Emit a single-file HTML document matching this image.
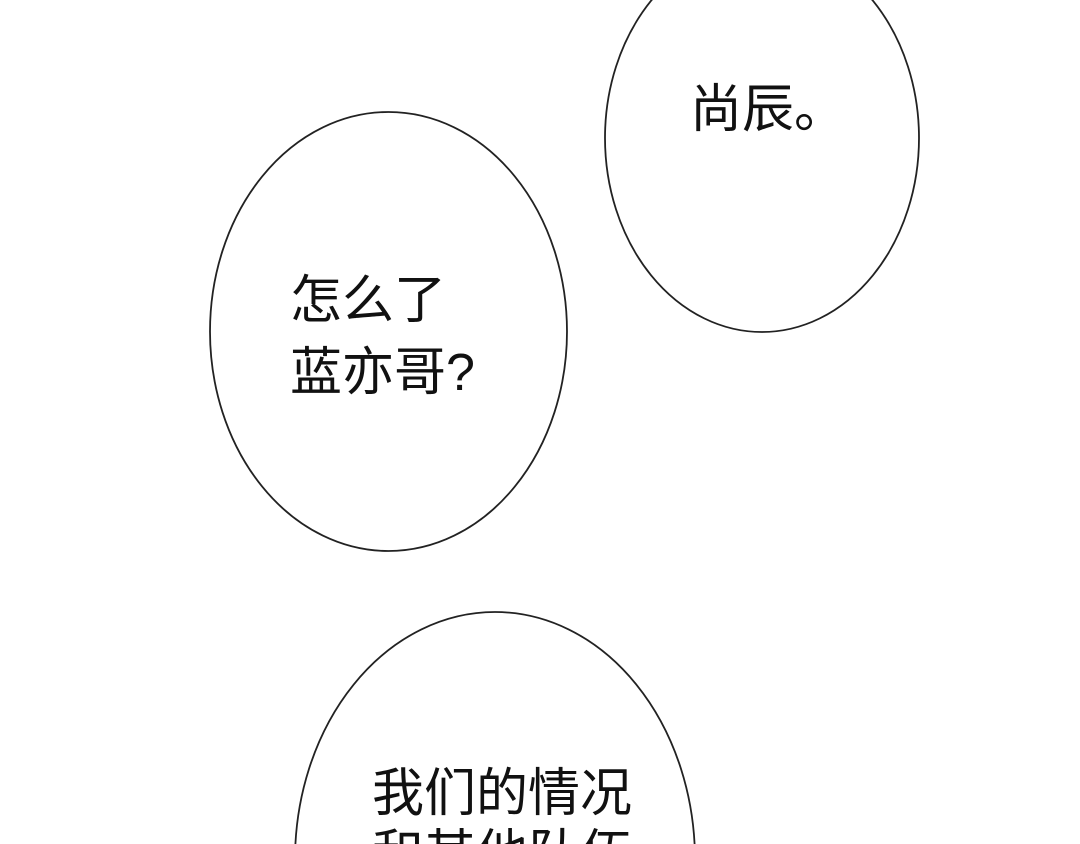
<!DOCTYPE html>
<html><head><meta charset="utf-8"><style>
html,body{margin:0;padding:0;background:#fff;width:1080px;height:844px;overflow:hidden}
svg{display:block;overflow:hidden}
text{font-family:"Liberation Sans","Noto Sans CJK SC",sans-serif;font-size:52px;fill:#111}
</style></head><body>
<svg width="1080" height="844" viewBox="0 0 1080 844">
<rect width="1080" height="844" fill="#fff"/>
<ellipse cx="762" cy="138" rx="157" ry="194" fill="#fff" stroke="#222" stroke-width="1.8"/>
<ellipse cx="388.5" cy="331.5" rx="178.5" ry="219.5" fill="#fff" stroke="#222" stroke-width="1.8"/>
<ellipse cx="495" cy="860" rx="200" ry="248" fill="#fff" stroke="#222" stroke-width="1.8"/>
<text x="690" y="127">尚辰。</text>
<text x="290" y="318">怎么了</text>
<text x="290" y="390">蓝亦哥?</text>
<text x="372" y="811">我们的情况</text>
<text x="372" y="872">和其他队伍</text>
</svg>
</body></html>
